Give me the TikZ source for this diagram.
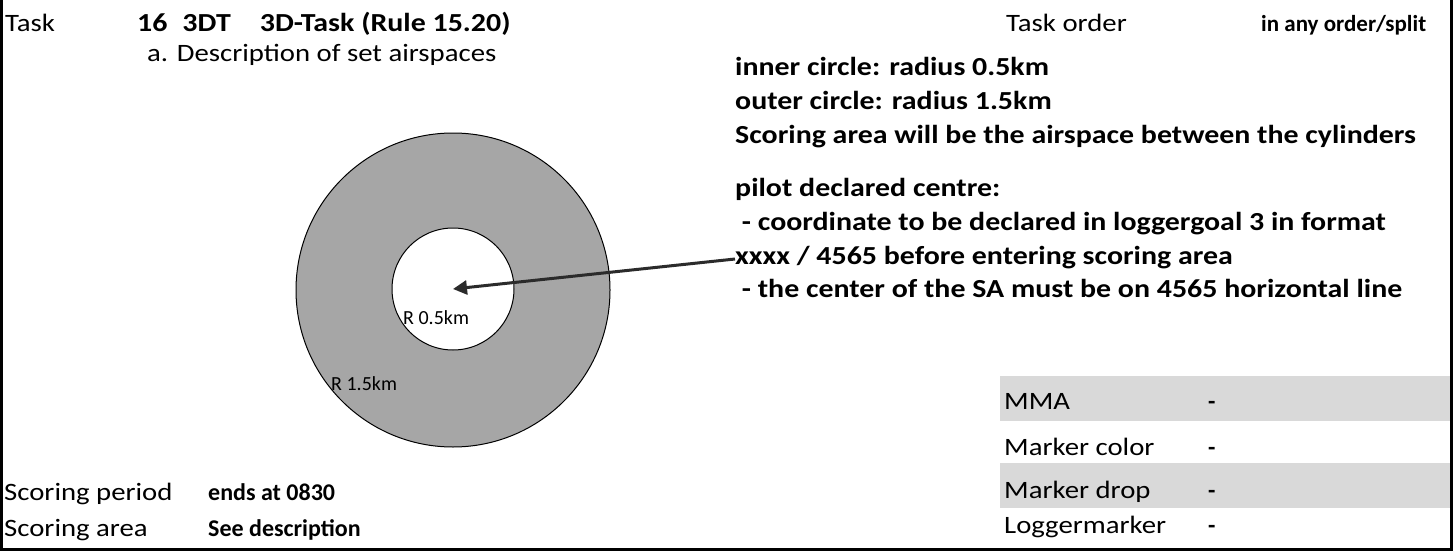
\documentclass[tikz,border=0pt]{standalone}
\usepackage{fontspec}
\setmainfont{Carlito}
\newfontfamily\widefont{Carlito}[FakeStretch=1.15]
\usetikzlibrary{arrows.meta}
\definecolor{ringgray}{HTML}{A6A6A6}
\definecolor{bandgray}{HTML}{D9D9D9}
\definecolor{arrowdark}{HTML}{2B2B2B}
\begin{document}
\begin{tikzpicture}[x=1pt,y=-1pt,
  lbl/.style={anchor=base west,inner sep=0pt,font=\widefont\fontsize{25}{28}\selectfont},
  val/.style={anchor=base west,inner sep=0pt,font=\fontsize{24}{28}\selectfont\bfseries},
  descr/.style={anchor=base west,inner sep=0pt,font=\widefont\fontsize{26}{30}\selectfont\bfseries},
  small/.style={anchor=base west,inner sep=0pt,font=\fontsize{20}{22}\selectfont},
  band/.style={fill=bandgray,draw=none}]
\useasboundingbox (0,0) rectangle (1454,551);
% gray bands
\fill[band] (1000,376) rectangle (1450,421);
\fill[band] (1000,463) rectangle (1450,508);
% frame
\draw[line width=2.6pt] (1.3,0) -- (1.3,549.5) -- (1451.5,549.5) -- (1451.5,0);
% header
\node[lbl] (task) at (5,32) {Task};
\node[descr] (title) at (137,32) {16\hspace{15pt}3DT\hspace{29pt}3D-Task (Rule 15.20)};
\node[lbl] (order) at (1006,32) {Task order};
\node[val,font=\fontsize{23}{26}\selectfont\bfseries] (orderval) at (1261,32) {in any order/split};
\node[lbl] (desc) at (147,62) {a. Description of set airspaces};
% circles
\node[circle,draw=black,line width=1pt,fill=ringgray,minimum size=314pt,inner sep=0pt] (outer) at (453,290) {};
\node[circle,draw=black,line width=1pt,fill=white,minimum size=122pt,inner sep=0pt] (inner) at (453,289) {};
\node[small] (rin) at (403,324) {R 0.5km};
\node[small] (rout) at (331,390) {R 1.5km};
% description text
\node[descr] (d1) at (735,76) {inner circle: radius 0.5km};
\node[descr] (d2) at (735,110) {outer circle: radius 1.5km};
\node[descr] (d3) at (735,143) {Scoring area will be the airspace between the cylinders};
\node[descr] (d4) at (735,196) {pilot declared centre:};
\node[descr] (d5) at (735,230) {\ - coordinate to be declared in loggergoal 3 in format};
\node[descr] (d6) at (735,264) {xxxx / 4565 before entering scoring area};
\node[descr] (d7) at (735,297) {\ - the center of the SA must be on 4565 horizontal line};
% arrow
\coordinate (astart) at (735,259);
\draw[arrowdark,line width=3pt,-{Triangle[length=14pt,width=14pt]}] (astart) -- (inner.center);
% bottom left
\node[lbl] (sp) at (4,500) {Scoring period};
\node[val] (spv) at (208,500) {ends at 0830};
\node[lbl] (sa) at (4,536) {Scoring area};
\node[val] (sav) at (208,536) {See description};
% bottom right
\node[lbl] (mma) at (1004,409) {MMA};
\node[val] (mmav) at (1208,409) {-};
\node[lbl] (mc) at (1004,455) {Marker color};
\node[val] (mcv) at (1208,455) {-};
\node[lbl] (md) at (1004,498) {Marker drop};
\node[val] (mdv) at (1208,498) {-};
\node[lbl] (lm) at (1004,533) {Loggermarker};
\node[val] (lmv) at (1208,533) {-};
\end{tikzpicture}
\end{document}
